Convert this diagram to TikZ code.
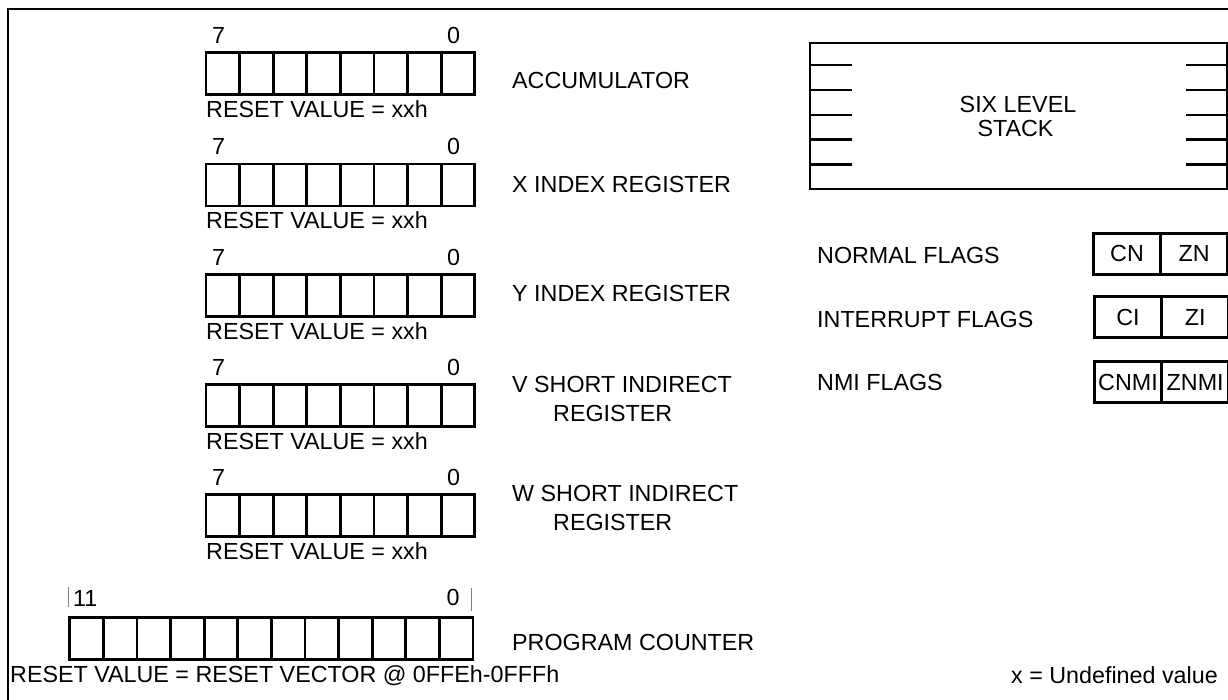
\documentclass[tikz,border=0pt]{standalone}
\usepackage{fontspec}
\setmainfont{Liberation Sans}
\begin{document}
\begin{tikzpicture}[x=1pt,y=-1pt,
  cell/.style={draw, line width=2.8pt, minimum width=33.6pt, minimum height=42pt, inner sep=0pt, anchor=north west},
  flag/.style={draw, line width=2.8pt, minimum width=67.2pt, minimum height=41pt, inner sep=0pt, anchor=north west,
     font=\fontsize{23.3}{23.3}\selectfont, text height=16.7pt, text depth=0pt},
  txt/.style={anchor=base west, inner sep=0pt, font=\fontsize{23.3}{23.3}\selectfont},
  ctxt/.style={anchor=base, inner sep=0pt, font=\fontsize{23.3}{23.3}\selectfont},
  thick line/.style={line width=2.8pt},
  tick/.style={line width=1.2pt, gray}]
\useasboundingbox (0,0) rectangle (1228,699);
\clip (0,0) rectangle (1228,699);
% outer frame
\draw[thick line] (8,9) rectangle (1260,740);

% 8-bit registers
\foreach \n/\yy in {a/51, x/162.5, y/273, v/383, w/493} {
  \foreach \i in {1,...,8} {
    \node[cell] (\n\i) at ({204.5+(\i-1)*33.6},\yy) {};
  }
  \node[txt] (\n top7) at (212,\yy-8) {7};
  \node[txt] (\n top0) at (447,\yy-8) {0};
  \node[txt] (\n reset) at (206,\yy+66) {RESET VALUE = xxh};
}

\node[txt] (lacc) at (512,88) {ACCUMULATOR};
\node[txt] (lx) at (512,192) {X INDEX REGISTER};
\node[txt] (ly) at (512,301) {Y INDEX REGISTER};
\node[txt] (lv1) at (512,392) {V SHORT INDIRECT};
\node[txt] (lv2) at (553,421) {REGISTER};
\node[txt] (lw1) at (512,501) {W SHORT INDIRECT};
\node[txt] (lw2) at (553,530) {REGISTER};
\node[txt] (lpc) at (512,650) {PROGRAM COUNTER};

% program counter
\foreach \i in {1,...,12} {
  \node[cell] (pc\i) at ({68.3+(\i-1)*33.6},616) {};
}
\draw[tick] (68.3,587) -- (68.3,607);
\draw[tick] (471.7,588) -- (471.7,611);
\node[txt] (pc11) at (73,606.7) {11};
\node[txt] (pc0) at (446.5,605.5) {0};
\node[txt] (pcreset) at (10,682.7) {RESET VALUE = RESET VECTOR @ 0FFEh-0FFFh};
\node[txt] (undef) at (1011,683) {x = Undefined value};

% stack
\draw[thick line] (810,43) rectangle (1227,189);
\foreach \yy in {65,90,115,139.5,164.3} {
  \draw[thick line] (810,\yy) -- (851.7,\yy);
  \draw[thick line] (1186,\yy) -- (1227,\yy);
}
\node[ctxt] (stack1) at (1018,112.7) {SIX LEVEL};
\node[ctxt] (stack2) at (1015.5,136) {STACK};

% flags
\node[txt] (lnf) at (817,263.3) {NORMAL FLAGS};
\node[txt] (lif) at (817,327.5) {INTERRUPT FLAGS};
\node[txt] (lnmi) at (817,390.7) {NMI FLAGS};
\node[flag] (cn) at (1092,231.7) {CN};
\node[flag] (zn) at (1159.2,231.7) {ZN};
\node[flag] (ci) at (1093,295) {CI};
\node[flag] (zi) at (1160.2,295) {ZI};
\node[flag] (cnmi) at (1093,360) {CNMI};
\node[flag] (znmi) at (1160.2,360) {ZNMI};
\end{tikzpicture}
\end{document}
